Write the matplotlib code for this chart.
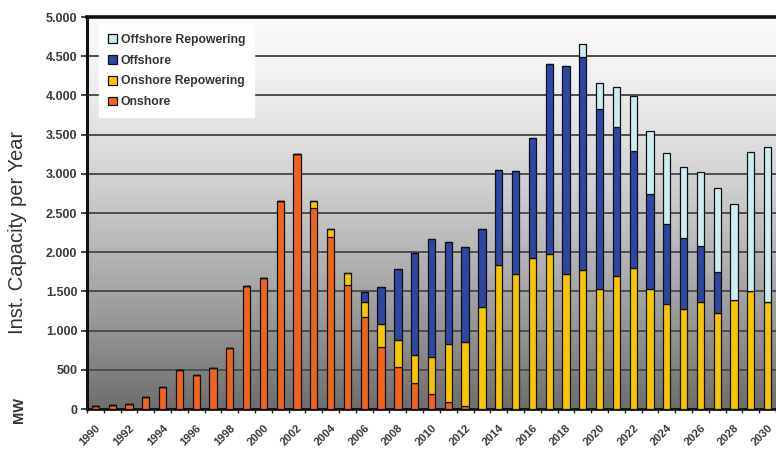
import numpy as np
import matplotlib
matplotlib.use("Agg")
import matplotlib.pyplot as plt
from matplotlib.patches import Patch

years = list(range(1990, 2031))

onshore = [40, 48, 65, 157, 281, 497, 430, 527, 782, 1569,
           1667, 2657, 3249, 2560, 2200, 1580, 1177, 795, 540, 328,
           187, 85, 42, 0, 0, 0, 0, 0, 0, 0,
           0, 0, 0, 0, 0, 0, 0, 0, 0, 0, 0]
onshore_repowering = [0, 0, 0, 0, 0, 0, 0, 0, 0, 0,
                      0, 0, 0, 90, 100, 150, 190, 293, 340, 361,
                      480, 740, 817, 1297, 1837, 1720, 1930, 1973, 1722, 1773,
                      1527, 1696, 1795, 1527, 1339, 1271, 1369, 1230, 1390, 1500, 1365]
offshore = [0, 0, 0, 0, 0, 0, 0, 0, 0, 0,
            0, 0, 0, 0, 0, 0, 120, 472, 906, 1297,
            1505, 1309, 1203, 1003, 1211, 1320, 1522, 2427, 2653, 2721,
            2303, 1897, 1500, 1220, 1025, 906, 708, 521, 0, 0, 0]
offshore_repowering = [0, 0, 0, 0, 0, 0, 0, 0, 0, 0,
                       0, 0, 0, 0, 0, 0, 0, 0, 0, 0,
                       0, 0, 0, 0, 0, 0, 0, 0, 0, 162,
                       332, 510, 697, 795, 905, 914, 950, 1072, 1230, 1782, 1978]

series = [
    ("Onshore", onshore, "#f0641e"),
    ("Onshore Repowering", onshore_repowering, "#f7c600"),
    ("Offshore", offshore, "#2f46a3"),
    ("Offshore Repowering", offshore_repowering, "#cdebf0"),
]

yticks = list(range(0, 5001, 500))
ytick_labels = ["0", "500", "1.000", "1.500", "2.000", "2.500",
                "3.000", "3.500", "4.000", "4.500", "5.000"]
xtick_years = list(range(1990, 2031, 2))

W, H = 776, 450
fig = plt.figure(figsize=(W / 100, H / 100), dpi=100)
ax = fig.add_axes([87 / W, 1 - 409 / H, 1 - 87 / W, (409 - 17) / H])

# vertical grey gradient background
t = np.linspace(0, 1, 256) ** 1.4
shade = (250 - 140 * t) / 255.0
grad = np.dstack([shade, shade, shade]).reshape(256, 1, 3)
ax.imshow(grad, extent=[0, 1, 0, 1], transform=ax.transAxes,
          aspect="auto", origin="upper", zorder=0)

ax.set_xlim(1989.53, 2030.30)
ax.set_ylim(0, 5000)

ax.yaxis.grid(True, color="#4e4e4e", linewidth=1.4, zorder=1)
ax.set_axisbelow(True)

bottom = np.zeros(len(years))
for name, vals, col in series:
    vals = np.array(vals, dtype=float)
    ax.bar(years, vals, width=0.43, bottom=bottom, color=col,
           edgecolor="#111111", linewidth=0.9, zorder=3)
    bottom += vals

ax.set_yticks(yticks)
ax.set_yticklabels(ytick_labels, fontsize=9, fontweight="bold",
                   color="#3a3a3a", family="Liberation Sans")
ax.tick_params(axis="y", length=4, width=1.2, color="#222222", pad=3)

ax.set_xticks(xtick_years)
ax.set_xticklabels([str(y) for y in xtick_years], rotation=45, ha="right",
                   va="top", rotation_mode="anchor", fontsize=8,
                   fontweight="bold", color="#3a3a3a", family="Liberation Sans")
ax.tick_params(axis="x", which="major", length=0, pad=10)
ax.set_xticks(np.arange(1989.5, 2030.6, 1.0), minor=True)
ax.tick_params(axis="x", which="minor", length=3, width=1.0, color="#222222")

for side in ("left", "top", "bottom"):
    ax.spines[side].set_color("#111111")
ax.spines["left"].set_linewidth(2.2)
ax.spines["top"].set_linewidth(2.6)
ax.spines["bottom"].set_linewidth(2.0)
ax.spines["right"].set_visible(False)

fig.text(18 / W, 1 - 232 / H, "Inst. Capacity per Year", rotation=90,
         ha="center", va="center", fontsize=14.5, color="#333333",
         family="Liberation Sans")
fig.text(19 / W, 1 - 410 / H, "MW", rotation=90, ha="center", va="center",
         fontsize=10.5, fontweight="bold", color="#333333",
         family="Liberation Sans")

handles = [Patch(facecolor=col, edgecolor="#111111", linewidth=0.9, label=name)
           for name, vals, col in reversed(series)]
leg = ax.legend(handles=handles, loc="upper left",
                bbox_to_anchor=(0.008, 0.996), frameon=True, fancybox=False,
                framealpha=1.0, facecolor="white", edgecolor="white",
                handlelength=0.75, handleheight=0.75, handletextpad=0.3,
                labelspacing=0.72, borderpad=0.75,
                prop={"family": "Liberation Sans", "weight": "bold", "size": 8.8})
for txt in leg.get_texts():
    txt.set_color("#333333")
leg.set_zorder(5)

fig.savefig("out.png", dpi=100)
